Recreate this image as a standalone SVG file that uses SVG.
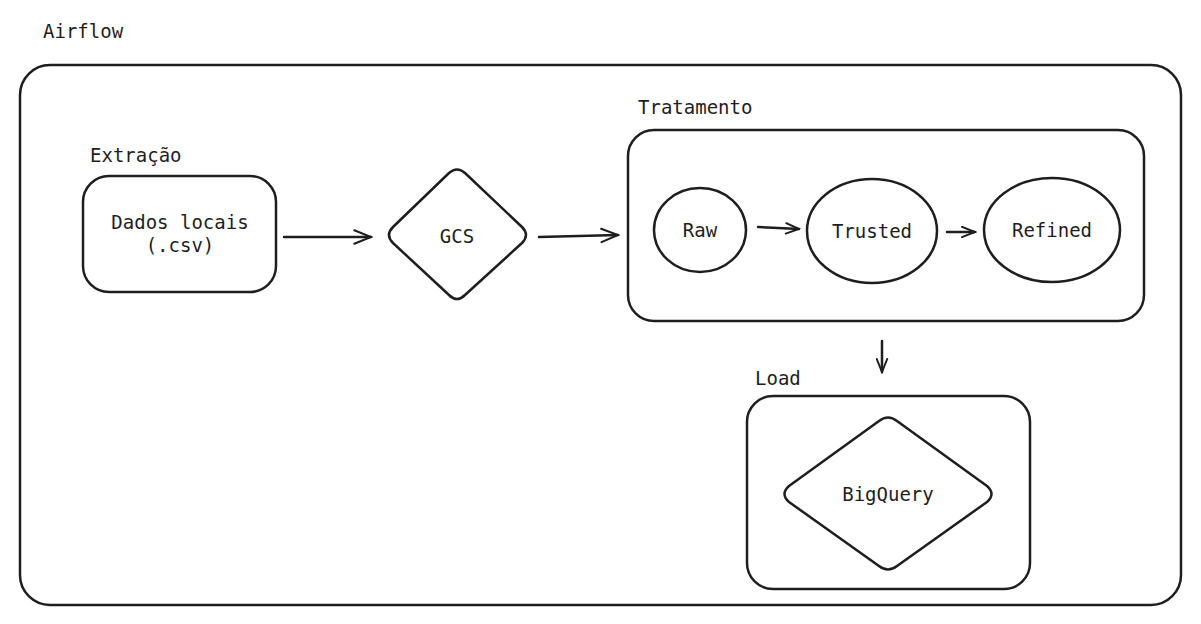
<svg xmlns="http://www.w3.org/2000/svg" width="1201" height="624" viewBox="0 0 1201 624">
<defs>
<style>
.s{fill:none;stroke:#1e1e1e;stroke-width:2.5;stroke-linecap:round;stroke-linejoin:round}
.t{font-family:"DejaVu Sans Mono","Liberation Mono",monospace;font-size:19px;fill:#1e1e1e}
.c{text-anchor:middle}
</style>
<marker id="ah" viewBox="0 0 24 20" refX="22" refY="10" markerWidth="20" markerHeight="17" markerUnits="userSpaceOnUse" orient="auto">
<path d="M2,2 L22,10 L2,18" fill="none" stroke="#1e1e1e" stroke-width="2.5" stroke-linecap="round"/>
</marker>
<marker id="ahs" viewBox="0 0 24 20" refX="22" refY="10" markerWidth="16" markerHeight="13" markerUnits="userSpaceOnUse" orient="auto">
<path d="M2,2 L22,10 L2,18" fill="none" stroke="#1e1e1e" stroke-width="3" stroke-linecap="round"/>
</marker>
</defs>
<rect width="1201" height="624" fill="#ffffff"/>
<g id="airflow">
<text class="t" x="43" y="38">Airflow</text>
<rect class="s" x="20" y="65" width="1161" height="540" rx="30"/>
</g>
<g id="extracao">
<text class="t" x="90" y="162">Extração</text>
</g>
<g id="dados">
<rect class="s" x="83" y="176" width="193" height="116" rx="26"/>
<text class="t c" x="180" y="229">Dados locais</text>
<text class="t c" x="180" y="252">(.csv)</text>
</g>
<g id="gcs">
<path class="s" d="M449,173 Q457,166 465,173 L522,227 Q530,235 522,243 L465,295 Q457,303 449,295 L393,243 Q385,235 393,227 Z"/>
<text class="t c" x="457" y="243">GCS</text>
</g>
<g id="tratamento">
<text class="t" x="638" y="114">Tratamento</text>
<rect class="s" x="628" y="130" width="516" height="191" rx="26"/>
</g>
<g id="raw">
<ellipse class="s" cx="700" cy="230" rx="46" ry="42"/>
<text class="t c" x="700" y="237">Raw</text>
</g>
<g id="trusted">
<ellipse class="s" cx="872" cy="231" rx="65" ry="52"/>
<text class="t c" x="872" y="238">Trusted</text>
</g>
<g id="refined">
<ellipse class="s" cx="1052" cy="230" rx="68" ry="52"/>
<text class="t c" x="1052" y="237">Refined</text>
</g>
<g id="load">
<text class="t" x="755" y="385">Load</text>
<rect class="s" x="747" y="396" width="283" height="193" rx="26"/>
</g>
<g id="bigquery">
<path class="s" d="M879,421 Q888,414 897,421 L987,486 Q996,494 987,502 L897,566 Q888,573 879,566 L789,502 Q780,494 789,486 Z"/>
<text class="t c" x="888" y="501">BigQuery</text>
</g>
<g id="connectors">
<line class="s" x1="284" y1="237" x2="371" y2="237" marker-end="url(#ah)"/>
<line class="s" x1="539" y1="237" x2="618" y2="235" marker-end="url(#ah)"/>
<line class="s" x1="758" y1="227" x2="799" y2="229" marker-end="url(#ahs)"/>
<line class="s" x1="947" y1="232" x2="975" y2="232" marker-end="url(#ahs)"/>
<line class="s" x1="882" y1="341" x2="882" y2="372" marker-end="url(#ahs)"/>
</g>
</svg>
